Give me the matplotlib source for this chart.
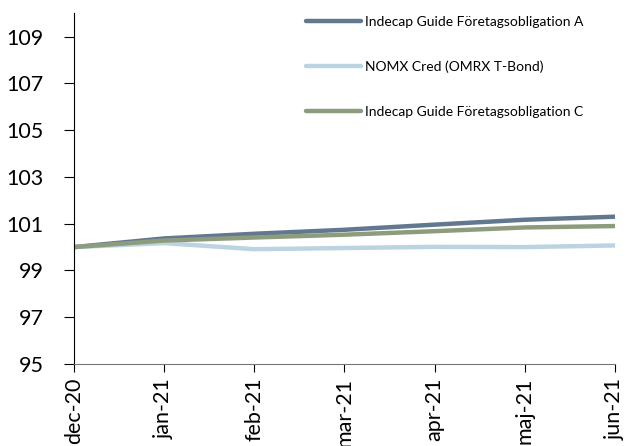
import matplotlib
matplotlib.use("Agg")
import matplotlib.pyplot as plt
import numpy as np

months = ["dec-20", "jan-21", "feb-21", "mar-21", "apr-21", "maj-21", "jun-21"]
fund_a = [100.0, 100.37, 100.57, 100.74, 100.96, 101.17, 101.3]
nomx = [100.0, 100.17, 99.91, 99.96, 100.01, 100.0, 100.07]
fund_c = [100.0, 100.28, 100.41, 100.53, 100.68, 100.84, 100.9]

plt.rcParams['font.family'] = ['Lato', 'DejaVu Sans']

fig = plt.figure(figsize=(6.28, 4.46), dpi=100)
ax = fig.add_axes([0.118, 0.184, 0.861, 0.786])

x = np.arange(len(months))
ax.plot(x, fund_a, color="#61788f", lw=3.2, label="Indecap Guide Företagsobligation A", solid_capstyle="round")
ax.plot(x, nomx, color="#bcd4e1", lw=3.2, label="NOMX Cred (OMRX T-Bond)", solid_capstyle="round")
ax.plot(x, fund_c, color="#8d9c7d", lw=3.2, label="Indecap Guide Företagsobligation C", solid_capstyle="round")

ax.set_xlim(0, len(months) - 1)
ax.set_ylim(95, 110)
ax.set_yticks(np.arange(95, 110, 2))
ax.set_xticks(x)
ax.set_xticklabels(months, rotation=90)
# labels are big in the original, with a wide gap to the axis
ax.tick_params(axis="y", labelsize=15.5, length=7, direction="out", pad=15)
ax.tick_params(axis="x", labelsize=15.5, length=6, direction="out", pad=4)

for s in ["top", "right"]:
    ax.spines[s].set_visible(False)
ax.spines["left"].set_color("black")
ax.spines["bottom"].set_color("#777777")

leg = fig.legend(loc="upper left", bbox_to_anchor=(0.468, 0.993), frameon=False,
                 fontsize=10, handlelength=3.9, labelspacing=2.36, handletextpad=0.3)

fig.savefig("out.png", dpi=100)
